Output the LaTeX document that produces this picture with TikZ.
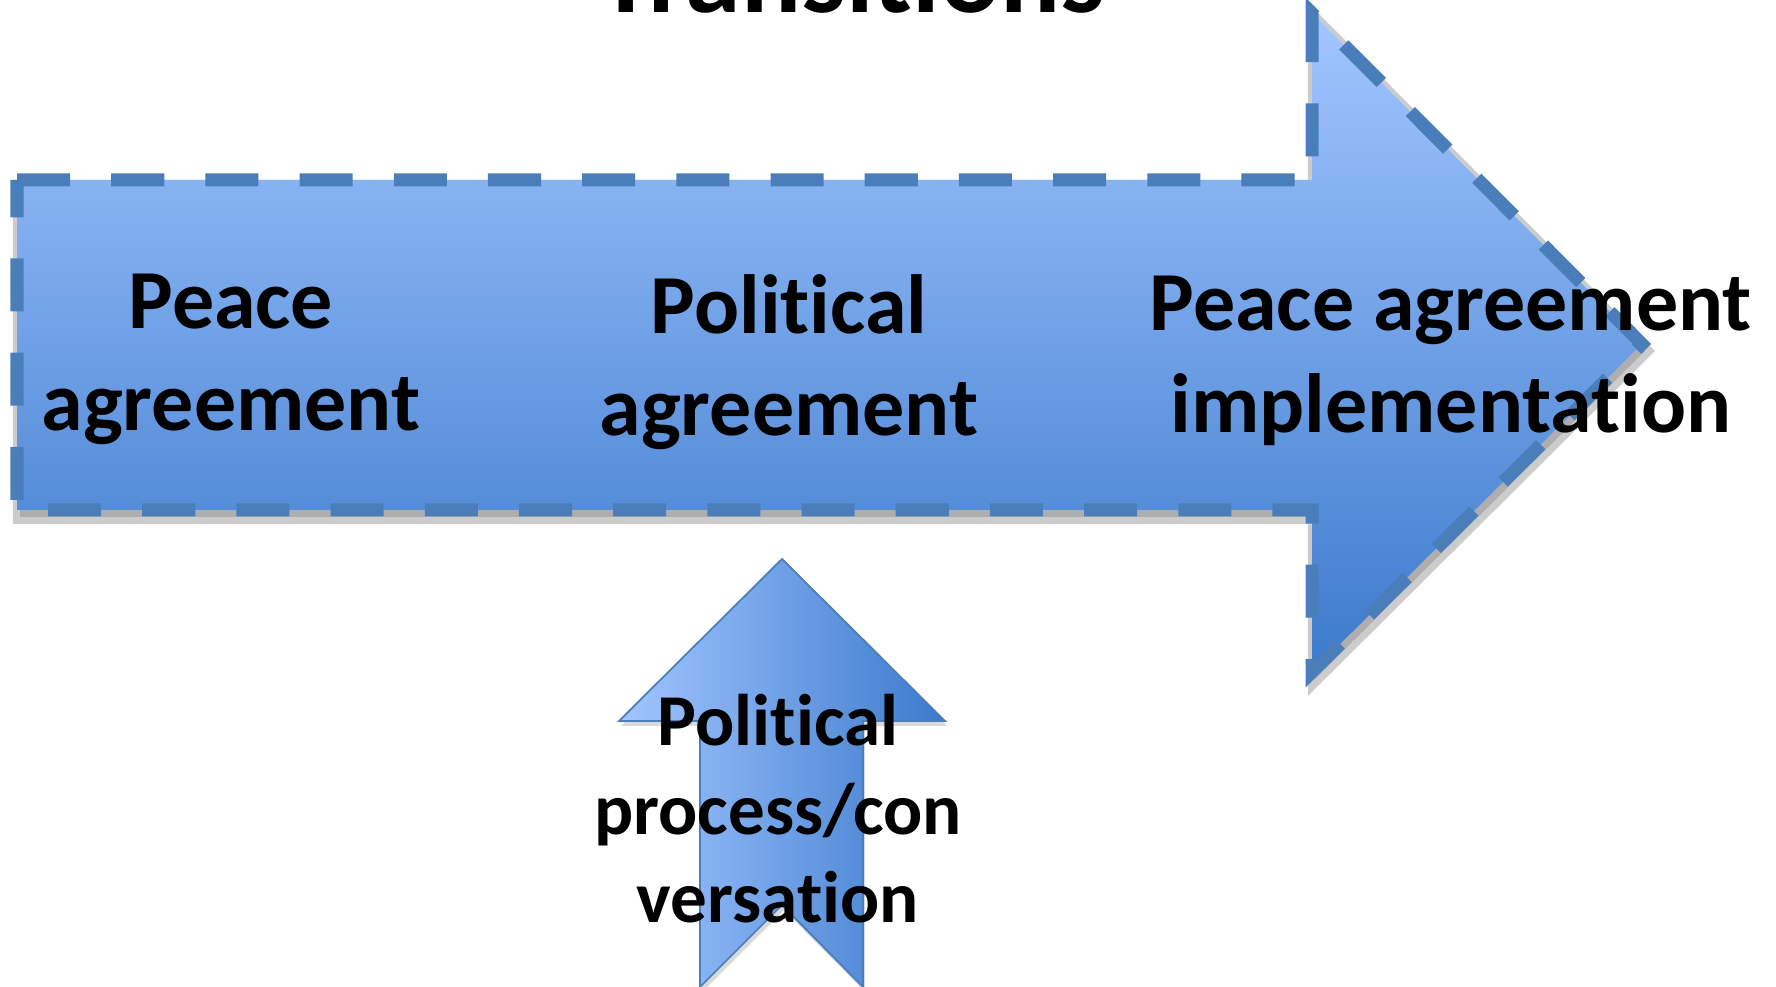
\documentclass[tikz,border=0pt]{standalone}
\usepackage{fontspec}
\setmainfont[Ligatures={NoCommon}]{Carlito}
\definecolor{arrowline}{RGB}{74,126,187}
\definecolor{arrowlight}{RGB}{162,198,255}
\definecolor{arrowdark}{RGB}{60,122,204}
\tikzset{big label/.style={align=center,anchor=base,font=\fontsize{23.9}{29.3}\selectfont\bfseries}}
\tikzset{small label/.style={align=center,anchor=base,font=\fontsize{20.8}{25.3}\selectfont\bfseries}}

\begin{document}
\begin{tikzpicture}[x=0.1mm,y=-0.1mm,line join=miter,
	shade drop/.style={gray,opacity=0.4,line width=4pt},
	dashed rim/.style={draw=arrowline,line width=3.7pt,dash pattern=on 15.1pt off 11.7pt}]
	\useasboundingbox (0,0) rectangle (1776,987);

	\node[font=\fontsize{31.9}{38}\selectfont\bfseries,anchor=base] (title) at (852,13) {Transitions};

	% big arrow
	\begin{scope}[shift={(3,7)}]
		\filldraw[shade drop] (17,180) -- (1312,180) -- (1312,13) -- (1642,344)
			-- (1312,672) -- (1312,510) -- (17,510) -- cycle;
	\end{scope}
	\path[top color=arrowlight,bottom color=arrowdark] (17,180) -- (1312,180) -- (1312,13)
		-- (1642,344) -- (1312,672) -- (1312,510) -- (17,510) -- cycle;
	\draw[dashed rim] (17,180) -- (1312,180) -- (1312,13) -- (1642,344)
		-- (1312,672) -- (1312,510) -- (17,510) -- cycle;

	% small arrow
	\fill[gray,opacity=0.3,shift={(2,5)}] (782,559) -- (945,721) -- (863,721) -- (863,987)
		-- (782,905) -- (700,987) -- (700,721) -- (619,721) -- cycle;
	\draw[arrowline,line width=0.5pt,left color=arrowlight,right color=arrowdark]
		(782,559) -- (945,721) -- (863,721) -- (863,987) -- (782,905)
		-- (700,987) -- (700,721) -- (619,721) -- cycle;

	% base anchor = last line
	\foreach \x/\y/\name/\txt in {231/431/peace/{Peace\\agreement},
		789/436/political/{Political\\agreement},
		1451/433/implementation/{Peace agreement\\implementation}}
		\node[big label] (\name) at (\x,\y) {\txt};

	\node[small label] (process) at (778,923) {Political\\process/con\\versation};
\end{tikzpicture}
\end{document}
